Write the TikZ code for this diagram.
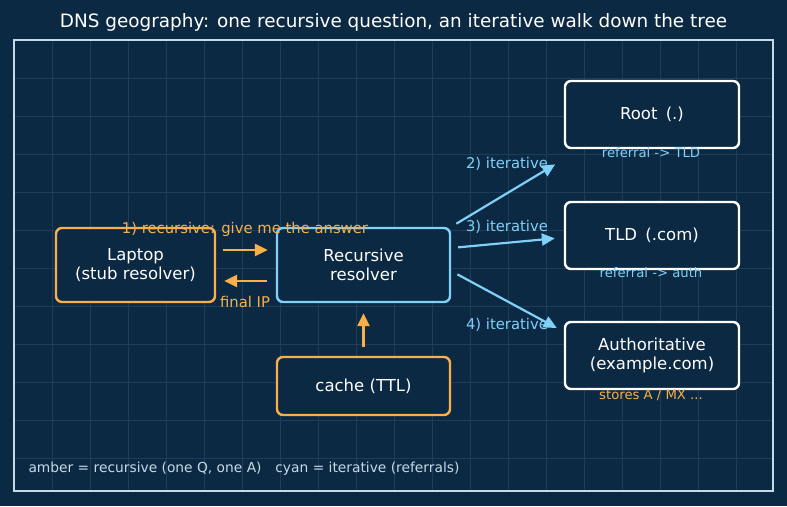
\documentclass[tikz,border=0pt]{standalone}
\usepackage{fontspec}
\setmainfont{DejaVu Sans}
\usetikzlibrary{arrows.meta}

\definecolor{bgnavy}{HTML}{0B2942}
\definecolor{gridblue}{HTML}{1D3D58}
\definecolor{amber}{HTML}{F9B04A}
\definecolor{skycyan}{HTML}{80D0F8}
\definecolor{framegray}{HTML}{C5DAE8}

\tikzset{
	box/.style={draw, rounded corners=6pt, line width=2.4pt, fill=bgnavy, text=white,
		minimum width=#1, align=center, font=\fontsize{16.5}{19.5}\selectfont},
	box/.default=159pt,
	ambbox/.style={box=#1, draw=amber},
	cyanbox/.style={box=#1, draw=skycyan},
	whitebox/.style={box=#1, draw=white},
	ambarrow/.style={draw=amber, line width=2.4pt, -{Triangle[length=13pt,width=12pt]}},
	cyanarrow/.style={draw=skycyan, line width=2.2pt, -{Triangle[length=13pt,width=12pt]}},
	lbl/.style={font=\fontsize{14.8}{17}\selectfont},
	sublbl/.style={font=\fontsize{13.2}{15}\selectfont}
}

\begin{document}
\begin{tikzpicture}[x=1pt,y=-1pt]
	\useasboundingbox [fill=bgnavy] (0,0) rectangle (787,506);
	
	% grid and frame
	\foreach \gx in {52,90,...,773} \draw [gridblue, line width=0.6pt] (\gx,40) -- (\gx,491);
	\foreach \gy in {78,116,...,491} \draw [gridblue, line width=0.6pt] (14,\gy) -- (773,\gy);
	\draw [framegray, line width=1.6pt] (14,40) rectangle (773,491);
	
	\node [text=white, font=\fontsize{18.4}{22}\selectfont] (title) at (393.5,22) {DNS geography: one recursive question, an iterative walk down the tree};
	
	% nodes
	\node [ambbox=159pt, minimum height=74pt] (laptop) at (135.5,265) {Laptop\\(stub resolver)};
	\node [cyanbox=173pt, minimum height=74pt] (resolver) at (363.5,265) {Recursive\\resolver};
	\node [ambbox=173pt, minimum height=58pt] (cache) at (363.5,386) {cache (TTL)};
	\node [whitebox=174pt, minimum height=67pt] (root) at (652,114.5) {Root\enspace(.)};
	\node [whitebox=174pt, minimum height=67pt] (tld) at (652,235.5) {TLD\enspace(.com)};
	\node [whitebox=174pt, minimum height=67pt] (auth) at (652,355.5) {Authoritative\\(example.com)};
	
	% recursive part
	\draw [ambarrow, shorten <=7pt, shorten >=8pt] ([yshift=15pt]laptop.east) -- ([yshift=15pt]resolver.west);
	\draw [ambarrow, shorten <=9pt, shorten >=8pt] ([yshift=-16pt]resolver.west) -- ([yshift=-16pt]laptop.east);
	\draw [ambarrow, shorten <=9pt, shorten >=10pt] (cache.north) -- (resolver.south);
	\node [lbl, text=amber] (q1) at (245,229) {1) recursive: give me the answer};
	\node [lbl, text=amber] (ans) at (245,302) {final IP};
	
	% iterative part
	\draw [cyanarrow, shorten <=6pt, shorten >=10pt] (resolver.north east) -- ([yshift=-10pt]root.south west);
	\draw [cyanarrow, shorten <=7pt, shorten >=9pt] ([yshift=17pt]resolver.east) -- ([yshift=-2pt]tld.west);
	\draw [cyanarrow, shorten <=7pt, shorten >=8pt] ([yshift=-6pt]resolver.east) -- ([yshift=-11pt]auth.north west);
	\node [lbl, text=skycyan] (it2) at (507,164) {2) iterative};
	\node [lbl, text=skycyan] (it3) at (507,227) {3) iterative};
	\node [lbl, text=skycyan] (it4) at (507,325) {4) iterative};
	
	\node [sublbl, text=skycyan] (ref1) at (651,153) {referral -> TLD};
	\node [sublbl, text=skycyan] (ref2) at (651,273) {referral -> auth};
	\node [sublbl, text=amber] (store) at (651,395) {stores A / MX ...};
	
	\node [anchor=west, text=framegray, font=\fontsize{13.8}{16}\selectfont] (legend) at (25,469) {amber = recursive (one Q, one A)\quad cyan = iterative (referrals)};
\end{tikzpicture}
\end{document}
